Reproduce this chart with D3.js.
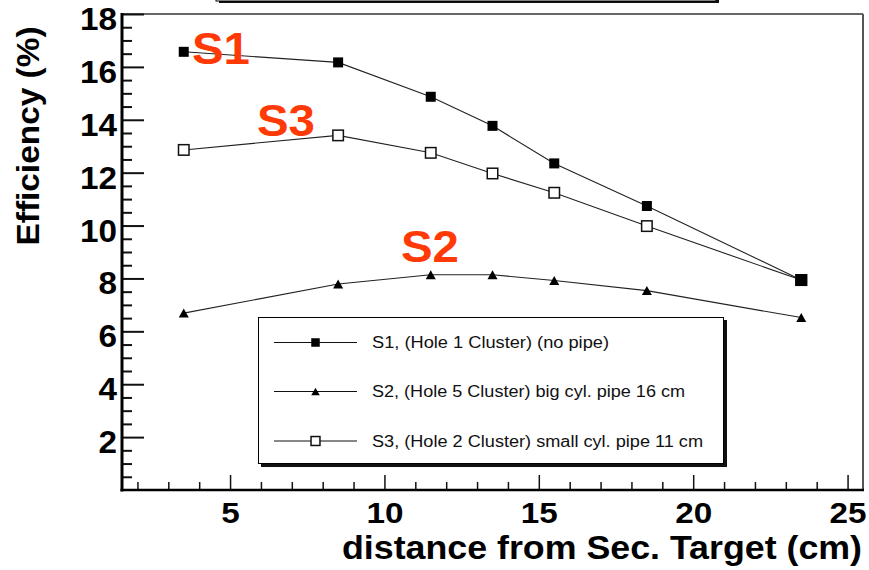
<!DOCTYPE html>
<html><head><meta charset="utf-8">
<script src="https://cdn.jsdelivr.net/npm/d3@7"></script>
<style>body{margin:0;background:#fff}svg{display:block}text{font-family:"Liberation Sans",Arial,sans-serif}</style>
</head><body><svg id="c" width="869" height="570"></svg>
<script>
const distances = [3.5, 8.5, 11.5, 13.5, 15.5, 18.5, 23.5];
const s1Values = [16.57, 16.17, 14.87, 13.77, 12.35, 10.74, 7.94];
const s2Values = [6.69, 7.79, 8.14, 8.14, 7.92, 7.54, 6.52];
const s3Values = [12.86, 13.41, 12.75, 11.97, 11.24, 9.98, 7.94];
const seriesNames = ["S1, (Hole 1 Cluster) (no pipe)", "S2, (Hole 5 Cluster) big cyl. pipe 16 cm", "S3, (Hole 2 Cluster) small cyl. pipe 11 cm"];
const seriesTags = ["S1", "S2", "S3"];
const yMajorTicks = [2, 4, 6, 8, 10, 12, 14, 16, 18];
const xMajorTicks = [5, 10, 15, 20, 25];

const svg = d3.select("#c");
const L = 122, R = 863, T = 14, B = 490;
const x = d3.scaleLinear().domain([1.5, 25.5]).range([L, R]);
const y = d3.scaleLinear().domain([0, 18]).range([B, T]);

// top title box remnant
svg.append("rect").attr("x", 219).attr("y", -10).attr("width", 500).attr("height", 13).attr("fill", "#111");
svg.append("rect").attr("x", 216).attr("y", -12).attr("width", 500).attr("height", 13).attr("fill", "#fff").attr("stroke", "#000").attr("stroke-width", 1);

// frame top/right
svg.append("line").attr("x1", L).attr("x2", R).attr("y1", T).attr("y2", T).attr("stroke", "#666").attr("stroke-width", 2);
svg.append("line").attr("x1", R).attr("x2", R).attr("y1", T).attr("y2", B).attr("stroke", "#555").attr("stroke-width", 2);

// y minor ticks
const yMinor = svg.append("g").attr("transform", `translate(${L},0)`)
  .call(d3.axisRight(y).tickValues(d3.range(0.5, 18, 0.5).filter(v => v % 2 !== 0)).tickSize(10).tickFormat(""));
yMinor.select(".domain").remove();
yMinor.selectAll("line").attr("stroke", "#111").attr("stroke-width", 2);
// y major ticks + labels
const yAx = svg.append("g").attr("transform", `translate(${L},0)`)
  .call(d3.axisLeft(y).tickValues(yMajorTicks).tickSizeInner(-22).tickSizeOuter(0).tickPadding(5).tickFormat(d3.format("d")));
yAx.select(".domain").remove();
yAx.selectAll("line").attr("stroke", "#111").attr("stroke-width", 2);
yAx.selectAll("text").attr("font-size", 31).attr("font-weight", "bold").attr("fill", "#000")
  .attr("dy", null).attr("y", 15.5).attr("x", -5)
  .attr("transform", null).each(function(){ const t = d3.select(this); t.attr("textLength", t.text().length * 37/2).attr("lengthAdjust", "spacingAndGlyphs"); });

// x minor ticks
const xMinor = svg.append("g").attr("transform", `translate(0,${B})`)
  .call(d3.axisBottom(x).tickValues(d3.range(2, 26, 1).filter(v => v % 5 !== 0)).tickSize(-8).tickFormat(""));
xMinor.select(".domain").remove();
xMinor.selectAll("line").attr("stroke", "#111").attr("stroke-width", 1.5);
const xAx = svg.append("g").attr("transform", `translate(0,${B})`)
  .call(d3.axisBottom(x).tickValues(xMajorTicks).tickSizeInner(-15).tickSizeOuter(0).tickPadding(0).tickFormat(d3.format("d")));
xAx.select(".domain").remove();
xAx.selectAll("line").attr("stroke", "#111").attr("stroke-width", 1.5);
xAx.selectAll("text").attr("font-size", 30).attr("font-weight", "bold").attr("fill", "#000")
  .attr("dy", null).attr("y", 33)
  .each(function(){ const t = d3.select(this); t.attr("textLength", t.text().length * 18.5).attr("lengthAdjust", "spacingAndGlyphs"); });

// axes lines
svg.append("line").attr("x1", L).attr("x2", L).attr("y1", T - 1).attr("y2", B + 1.5).attr("stroke", "#000").attr("stroke-width", 3);
svg.append("line").attr("x1", L - 1.5).attr("x2", R + 1).attr("y1", B).attr("y2", B).attr("stroke", "#000").attr("stroke-width", 2.5);

// axis titles
svg.append("text").attr("x", 342).attr("y", 559).attr("font-size", 33).attr("font-weight", "bold")
  .attr("textLength", 520).attr("lengthAdjust", "spacingAndGlyphs").text("distance from Sec. Target (cm)");
svg.append("text").attr("transform", "translate(39,136) rotate(-90)").attr("text-anchor", "middle")
  .attr("font-size", 32).attr("font-weight", "bold")
  .attr("textLength", 219).attr("lengthAdjust", "spacingAndGlyphs").text("Efficiency (%)");

// series
const series = [
  {vals: s1Values, shape: "fsq"},
  {vals: s2Values, shape: "tri"},
  {vals: s3Values, shape: "osq"}
];
const line = d3.line().x((d, i) => x(distances[i])).y(d => y(d));
function drawMarker(g, shape, cx, cy, scale) {
  if (shape === "fsq") {
    const s = 10 * scale;
    g.append("rect").attr("x", cx - s/2).attr("y", cy - s/2).attr("width", s).attr("height", s).attr("fill", "#000");
  } else if (shape === "osq") {
    const s = 10.5 * scale;
    g.append("rect").attr("x", cx - s/2).attr("y", cy - s/2).attr("width", s).attr("height", s).attr("fill", "#fff").attr("stroke", "#111").attr("stroke-width", 1.5);
  } else {
    const w = 10 * scale, h = 9 * scale;
    g.append("path").attr("d", `M${cx - w/2},${cy + h/2}L${cx + w/2},${cy + h/2}L${cx},${cy - h/2}Z`).attr("fill", "#000");
  }
}
const plot = svg.append("g");
// draw order: S3, S2, S1 on top
[2, 1, 0].forEach(k => {
  const s = series[k];
  plot.append("path").attr("d", line(s.vals)).attr("fill", "none").attr("stroke", "#222").attr("stroke-width", 1.1);
});
[2, 1, 0].forEach(k => {
  const s = series[k];
  s.vals.forEach((v, i) => drawMarker(plot, s.shape, x(distances[i]), y(v), k === 0 && i === s.vals.length - 1 ? 1.2 : 1));
});

// S labels
const tagColor = "#ff3a06";
const tagPos = [[192, 64], [401, 262], [257, 136]];
seriesTags.forEach((t, k) => {
  svg.append("text").attr("x", tagPos[k][0]).attr("y", tagPos[k][1]).attr("font-size", 45).attr("font-weight", "bold")
    .attr("fill", tagColor).attr("textLength", 58).attr("lengthAdjust", "spacingAndGlyphs").text(t);
});

// legend
const lg = svg.append("g");
lg.append("rect").attr("x", 261).attr("y", 320).attr("width", 466).attr("height", 147).attr("fill", "#111");
lg.append("rect").attr("x", 258.5).attr("y", 317.5).attr("width", 465).attr("height", 146).attr("fill", "#fff").attr("stroke", "#000").attr("stroke-width", 1);
const rowY = [342.5, 391.5, 441];
const textLens = [237, 313, 331];
seriesNames.forEach((n, k) => {
  lg.append("line").attr("x1", 274).attr("x2", 357).attr("y1", rowY[k]).attr("y2", rowY[k]).attr("stroke", "#111").attr("stroke-width", 1.2);
  drawMarker(lg, series[k].shape, 315.5, rowY[k], 0.85);
  lg.append("text").attr("x", 372).attr("y", rowY[k] + 5.8).attr("font-size", 16).attr("fill", "#111")
    .attr("textLength", textLens[k]).attr("lengthAdjust", "spacingAndGlyphs").text(n);
});
</script></body></html>
